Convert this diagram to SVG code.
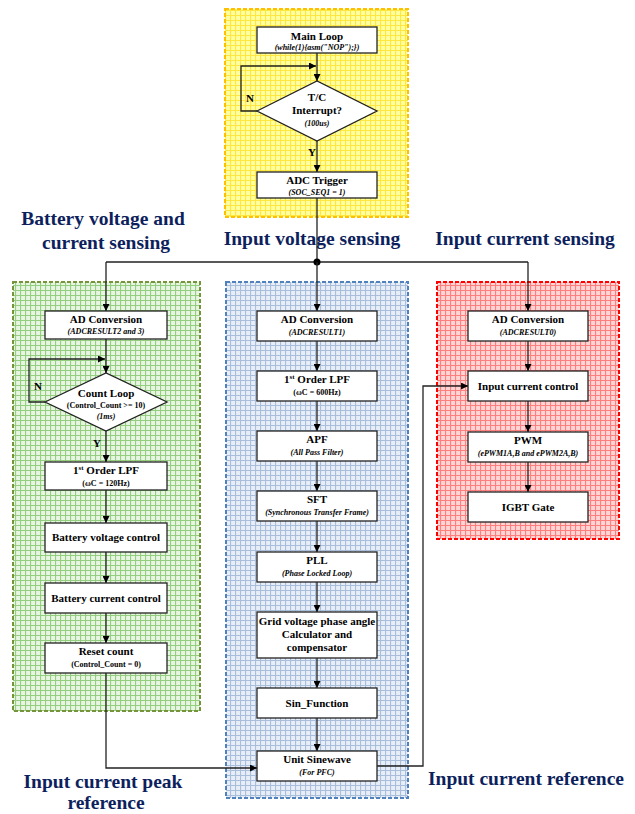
<svg xmlns="http://www.w3.org/2000/svg" width="635" height="814" viewBox="0 0 635 814">
<defs>
<pattern id="gy" width="5" height="5" patternUnits="userSpaceOnUse"><rect width="5" height="5" fill="#ffffa0"/><path d="M0 0.5H5M0.5 0V5" stroke="#ffe640" stroke-width="1.2"/></pattern>
<pattern id="gg" width="5" height="5" patternUnits="userSpaceOnUse"><rect width="5" height="5" fill="#e8f5e2"/><path d="M0 0.5H5M0.5 0V5" stroke="#93cf7e" stroke-width="1.2"/></pattern>
<pattern id="gb" width="5" height="5" patternUnits="userSpaceOnUse"><rect width="5" height="5" fill="#e8eef7"/><path d="M0 0.5H5M0.5 0V5" stroke="#a9bedb" stroke-width="1.2"/></pattern>
<pattern id="gr" width="5" height="5" patternUnits="userSpaceOnUse"><rect width="5" height="5" fill="#ffd4d4"/><path d="M0 0.5H5M0.5 0V5" stroke="#ff7f7f" stroke-width="1.2"/></pattern>
<marker id="ah" viewBox="0 0 10 10" refX="10" refY="5" markerWidth="7" markerHeight="7" orient="auto" markerUnits="userSpaceOnUse"><path d="M0 0L10 5L0 10z" fill="#000"/></marker>
</defs>
<style>
.box{fill:#fff;stroke:#222;stroke-width:1.3}
.t{font-family:"Liberation Serif","Times New Roman",serif;font-weight:bold;font-size:11px;text-anchor:middle;fill:#000}
.s{font-family:"Liberation Serif","Times New Roman",serif;font-style:italic;font-weight:bold;font-size:8px;text-anchor:middle;fill:#000}
.s2{font-family:"Liberation Serif","Times New Roman",serif;font-weight:bold;font-size:8px;text-anchor:middle;fill:#000}
.lbl{font-family:"Liberation Serif","Times New Roman",serif;font-weight:bold;font-size:19.5px;text-anchor:middle;fill:#0d1f5c}
.yn{font-family:"Liberation Serif","Times New Roman",serif;font-weight:bold;font-size:11px;fill:#000}
.c{fill:none;stroke:#222;stroke-width:1.3}
.ca{fill:none;stroke:#222;stroke-width:1.3;marker-end:url(#ah)}
</style>
<g id="regions">
<rect x="225" y="9" width="183" height="208" fill="url(#gy)" stroke="#ffc000" stroke-width="2" stroke-dasharray="4,2"/>
<rect x="13" y="282" width="187" height="429" fill="url(#gg)" stroke="#77933c" stroke-width="2" stroke-dasharray="4,2"/>
<rect x="226" y="282" width="182" height="516" fill="url(#gb)" stroke="#4f81bd" stroke-width="2" stroke-dasharray="4,2"/>
<rect x="437" y="282" width="182" height="257" fill="url(#gr)" stroke="#ff0000" stroke-width="2" stroke-dasharray="4,2"/>
</g>
<g id="labels">
<text class="lbl" x="103" y="225">Battery voltage and</text>
<text class="lbl" x="106" y="249">current sensing</text>
<text class="lbl" x="312" y="245">Input voltage sensing</text>
<text class="lbl" x="525" y="245">Input current sensing</text>
<text class="lbl" x="103" y="788">Input current peak</text>
<text class="lbl" x="106" y="809">reference</text>
<text class="lbl" x="526" y="785">Input current reference</text>
</g>
<g id="connectors">
<path class="ca" d="M317 53V81"/>
<path class="ca" d="M257 111H241V66H316"/>
<path class="ca" d="M317 141V172"/>
<path class="c" d="M317 198V262M106 262H528"/>
<circle cx="317" cy="262" r="3.5" fill="#000"/>
<path class="ca" d="M106 262V311"/>
<path class="ca" d="M317 262V311"/>
<path class="ca" d="M528 262V311"/>
<path class="ca" d="M106 339V373"/>
<path class="ca" d="M45 402H29V359H105"/>
<path class="ca" d="M106 431V462"/>
<path class="ca" d="M106 490V523"/>
<path class="ca" d="M106 552V583"/>
<path class="ca" d="M106 613V643"/>
<path class="ca" d="M106 673V768H257"/>
<path class="ca" d="M317 341V371"/>
<path class="ca" d="M317 401V431"/>
<path class="ca" d="M317 461V491"/>
<path class="ca" d="M317 521V552"/>
<path class="ca" d="M317 582V612"/>
<path class="ca" d="M317 658V688"/>
<path class="ca" d="M317 718V751"/>
<path class="ca" d="M377 766H423V386H468"/>
<path class="ca" d="M528 341V371"/>
<path class="ca" d="M528 401V432"/>
<path class="ca" d="M528 462V492"/>
<text class="yn" x="246" y="102">N</text>
<text class="yn" x="308" y="156">Y</text>
<text class="yn" x="34" y="390">N</text>
<text class="yn" x="93" y="447">Y</text>
</g>
<g id="main-loop"><rect class="box" x="257" y="27" width="120" height="26"/><text class="t" x="317" y="40">Main Loop</text><text class="s" x="317" y="50">(while(1){asm("NOP");})</text></g>
<g id="tc-interrupt"><polygon class="box" points="257,111 317,81 377,111 317,141"/><text class="t" x="317" y="101">T/C</text><text class="t" x="317" y="114">Interrupt?</text><text class="s" x="317" y="126">(100us)</text></g>
<g id="adc-trigger"><rect class="box" x="257" y="172" width="120" height="26"/><text class="t" x="317" y="184">ADC Trigger</text><text class="s" x="317" y="195">(SOC_SEQ1 = 1)</text></g>
<g id="l-ad"><rect class="box" x="45" y="311" width="122" height="28"/><text class="t" x="106" y="323">AD Conversion</text><text class="s" x="106" y="334">(ADCRESULT2 and 3)</text></g>
<g id="count-loop"><polygon class="box" points="45,402 106,373 167,402 106,431"/><text class="t" x="106" y="397">Count Loop</text><text class="s2" x="106" y="408">(Control_Count &gt;= 10)</text><text class="s" x="106" y="419">(1ms)</text></g>
<g id="l-lpf"><rect class="box" x="45" y="462" width="122" height="28"/><text class="t" x="106" y="474">1<tspan font-size="7" dy="-4">st</tspan><tspan dy="4"> Order LPF</tspan></text><text class="s2" x="106" y="486">(ωC = 120Hz)</text></g>
<g id="batt-v"><rect class="box" x="45" y="523" width="122" height="29"/><text class="t" x="106" y="541">Battery voltage control</text></g>
<g id="batt-i"><rect class="box" x="45" y="583" width="122" height="30"/><text class="t" x="106" y="602">Battery current control</text></g>
<g id="reset"><rect class="box" x="45" y="643" width="122" height="30"/><text class="t" x="106" y="655">Reset count</text><text class="s2" x="106" y="667">(Control_Count = 0)</text></g>
<g id="m-ad"><rect class="box" x="257" y="311" width="120" height="30"/><text class="t" x="317" y="323">AD Conversion</text><text class="s" x="317" y="335">(ADCRESULT1)</text></g>
<g id="m-lpf"><rect class="box" x="257" y="371" width="120" height="30"/><text class="t" x="317" y="383">1<tspan font-size="7" dy="-4">st</tspan><tspan dy="4"> Order LPF</tspan></text><text class="s2" x="317" y="395">(ωC = 600Hz)</text></g>
<g id="apf"><rect class="box" x="257" y="431" width="120" height="30"/><text class="t" x="317" y="443">APF</text><text class="s" x="317" y="455">(All Pass Filter)</text></g>
<g id="sft"><rect class="box" x="257" y="491" width="120" height="30"/><text class="t" x="317" y="503">SFT</text><text class="s" x="317" y="515">(Synchronous Transfer Frame)</text></g>
<g id="pll"><rect class="box" x="257" y="552" width="120" height="30"/><text class="t" x="317" y="564">PLL</text><text class="s" x="317" y="576">(Phase Locked Loop)</text></g>
<g id="grid"><rect class="box" x="257" y="612" width="120" height="46"/><text class="t" x="317" y="625">Grid voltage phase angle</text><text class="t" x="317" y="638">Calculator and</text><text class="t" x="317" y="651">compensator</text></g>
<g id="sin"><rect class="box" x="257" y="688" width="120" height="30"/><text class="t" x="317" y="707">Sin_Function</text></g>
<g id="unit"><rect class="box" x="257" y="751" width="120" height="30"/><text class="t" x="317" y="763">Unit Sinewave</text><text class="s" x="317" y="775">(For PFC)</text></g>
<g id="r-ad"><rect class="box" x="468" y="311" width="120" height="30"/><text class="t" x="528" y="323">AD Conversion</text><text class="s" x="528" y="335">(ADCRESULT0)</text></g>
<g id="icc"><rect class="box" x="468" y="371" width="120" height="30"/><text class="t" x="528" y="390">Input current control</text></g>
<g id="pwm"><rect class="box" x="468" y="432" width="120" height="30"/><text class="t" x="528" y="444">PWM</text><text class="s" x="528" y="456">(ePWM1A,B and ePWM2A,B)</text></g>
<g id="igbt"><rect class="box" x="468" y="492" width="120" height="30"/><text class="t" x="528" y="511">IGBT Gate</text></g>
</svg>
